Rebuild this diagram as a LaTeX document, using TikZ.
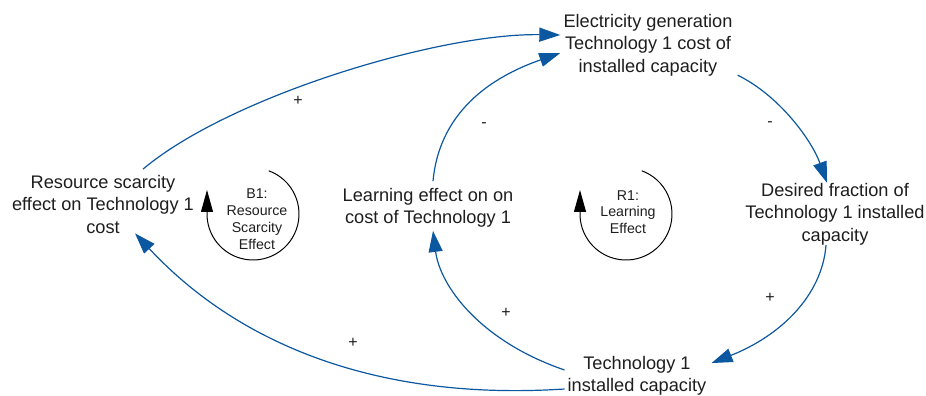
\documentclass[tikz,border=0pt]{standalone}
\usepackage{fontspec}
\setmainfont{Liberation Sans}
\usetikzlibrary{arrows.meta}
\definecolor{linkblue}{RGB}{12,88,160}
\definecolor{txtgray}{RGB}{30,30,30}
\begin{document}
\begin{tikzpicture}[x=1pt,y=1pt,
  var/.style={align=center,text=txtgray,font=\fontsize{18.2}{22.5}\selectfont,inner sep=3pt},
  link/.style={draw=linkblue,line width=1.2pt,-{Triangle[length=21pt,width=14pt,fill=linkblue]}},
  pol/.style={text=txtgray,font=\fontsize{16}{16}\selectfont,inner sep=1pt},
  looptxt/.style={align=center,text=txtgray,font=\fontsize{14.2}{16.8}\selectfont},
  looparc/.style={draw=black,line width=1pt,-{Triangle[length=22pt,width=12pt]}}]
\useasboundingbox (0,0) rectangle (926,396);

% variables
\node[var] (elec) at (648,351) {Electricity generation\\Technology 1 cost of\\installed capacity};
\node[var] (res) at (103,192) {Resource scarcity\\effect on Technology 1\\cost};
\node[var] (learn) at (428,188) {Learning effect on on\\cost of Technology 1};
\node[var] (des) at (835,182) {Desired fraction of\\Technology 1 installed\\capacity};
\node[var] (tech) at (637,20) {Technology 1\\installed capacity};

% loop markers
\node[looptxt] (b1) at (257,177) {B1:\\Resource\\Scarcity\\Effect};
\coordinate (b1c) at (253,182);
\draw[looparc] (b1c) ++(70:46) arc[start angle=70,end angle=-180,radius=46] -- ++(0,24);
\node[looptxt] (r1) at (628,184) {R1:\\Learning\\Effect};
\coordinate (r1c) at (626,182);
\draw[looparc] (r1c) ++(70:46) arc[start angle=70,end angle=-180,radius=46] -- ++(0,24);

% links
\draw[link] ([xshift=40pt,yshift=2.5pt]res.north) .. controls (230,300) and (440,363) .. ([yshift=10pt]elec.west);
\draw[link] ([xshift=5pt,yshift=4pt]learn.north) .. controls (440,290) and (500,322) .. ([yshift=-8pt]elec.west);
\draw[link] ([xshift=2pt,yshift=4pt]elec.south east) .. controls (780,300) and (812,255) .. ([xshift=-8pt,yshift=-3pt]des.north);
\draw[link] ([xshift=-9pt,yshift=3pt]des.south) .. controls (822,100) and (780,60) .. ([xshift=2pt,yshift=-10pt]tech.north east);
\draw[link] ([yshift=6pt]tech.west) .. controls (480,55) and (440,110) .. ([xshift=5pt]learn.south);
\draw[link] ([yshift=-13pt]tech.west) .. controls (380,-5) and (240,50) .. ([xshift=32pt,yshift=3pt]res.south);

% polarities
\node[pol] (p1) at (298,295) {+};
\node[pol] (p2) at (484,271) {-};
\node[pol] (p3) at (770,272) {-};
\node[pol] (p4) at (770,98) {+};
\node[pol] (p5) at (506,83) {+};
\node[pol] (p6) at (353,53) {+};
\end{tikzpicture}
\end{document}
